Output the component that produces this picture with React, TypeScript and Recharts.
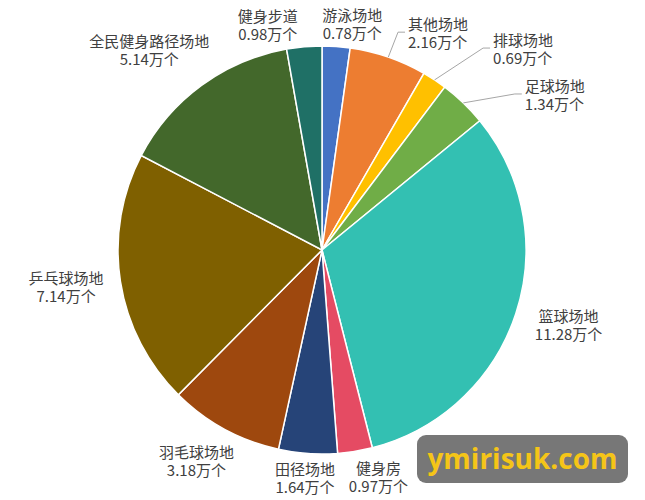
import { Cell, Pie, PieChart } from "recharts";

const names = [
  "游泳场地",
  "其他场地",
  "排球场地",
  "足球场地",
  "篮球场地",
  "健身房",
  "田径场地",
  "羽毛球场地",
  "乒乓球场地",
  "全民健身路径场地",
  "健身步道",
];
const values = [0.78, 2.16, 0.69, 1.34, 11.28, 0.97, 1.64, 3.18, 7.14, 5.14, 0.98];
const colors = [
  "#4472C4",
  "#ED7D31",
  "#FFC000",
  "#70AD47",
  "#33C0B2",
  "#E54B63",
  "#264478",
  "#9E480E",
  "#7F6000",
  "#43682B",
  "#1F7066",
];

// label layout tweaks: angle shift (deg, clockwise) and extra distance
const labelShift = [3.6, 9.4, 11.6, 12.5, -1.5, -4.7, 0.3, 2.3, 0.8, -4.5, -8.5];
const labelPush = [0, 7, 38, 30, 0, 0, 0, 0, 0, 0, 0];
const leaderIdx = [1, 2, 3];

const data = names.map((name, i) => ({ name, value: values[i] }));

const FONT = "'Noto Sans CJK SC', 'Noto Sans', sans-serif";

function textWidth(s: string) {
  let w = 0;
  for (const ch of s) w += /[\u4e00-\u9fff]/.test(ch) ? 15 : 8.3;
  return w;
}

function renderLabel(props: any) {
  const { cx, cy, midAngle, outerRadius, index } = props;
  const line1 = names[index];
  const line2 = `${values[index]}万个`;
  const w = Math.max(textWidth(line1), textWidth(line2));
  const h = 36;
  const t = ((90 - midAngle + labelShift[index]) * Math.PI) / 180;
  const s = Math.sin(t);
  const c = Math.cos(t);
  const d =
    outerRadius + 3 + 12 * s * s + (Math.abs(s) * w) / 2 + (Math.abs(c) * h) / 2 + labelPush[index];
  const lx = cx + d * s;
  const ly = cy - d * c;
  const leader = leaderIdx.includes(index);
  const left = lx - w / 2;
  const tm = ((90 - midAngle) * Math.PI) / 180;
  const ex = cx + outerRadius * Math.sin(tm);
  const ey = cy - outerRadius * Math.cos(tm);
  const tx = leader ? left : lx;
  return (
    <g key={`lbl-${index}`}>
      {leader && (
        <polyline
          points={`${ex},${ey} ${left - 10},${ly} ${left - 3},${ly}`}
          fill="none"
          stroke="#a6a6a6"
          strokeWidth={1}
        />
      )}
      <text
        x={tx}
        y={ly - 9}
        textAnchor={leader ? "start" : "middle"}
        dominantBaseline="central"
        fontSize={15}
        fontFamily={FONT}
        fill="#404040"
      >
        <tspan x={tx} dy={0}>
          {line1}
        </tspan>
        <tspan x={tx} dy={18}>
          {line2}
        </tspan>
      </text>
    </g>
  );
}

export default function App() {
  return (
    <div style={{ position: "absolute", left: 0, top: 0, width: 645, height: 500, background: "#fff" }}>
      <PieChart width={645} height={500} margin={{ top: 0, right: 0, bottom: 0, left: 0 }}>
        <Pie
          data={data}
          dataKey="value"
          nameKey="name"
          cx={322}
          cy={250}
          outerRadius={204}
          startAngle={90}
          endAngle={-270}
          stroke="#fff"
          strokeWidth={1.5}
          label={renderLabel}
          labelLine={false}
          isAnimationActive={false}
        >
          {data.map((d, i) => (
            <Cell key={d.name} fill={colors[i]} />
          ))}
        </Pie>
      </PieChart>
      <div
        style={{
          position: "absolute",
          left: 417,
          top: 435,
          width: 211,
          height: 48,
          borderRadius: 9,
          background: "#777777",
          color: "#F5C518",
          fontFamily: "'Open Sans', sans-serif",
          fontWeight: 700,
          fontSize: 28,
          lineHeight: "46px",
          textAlign: "center",
        }}
      >
        ymirisuk.com
      </div>
    </div>
  );
}
